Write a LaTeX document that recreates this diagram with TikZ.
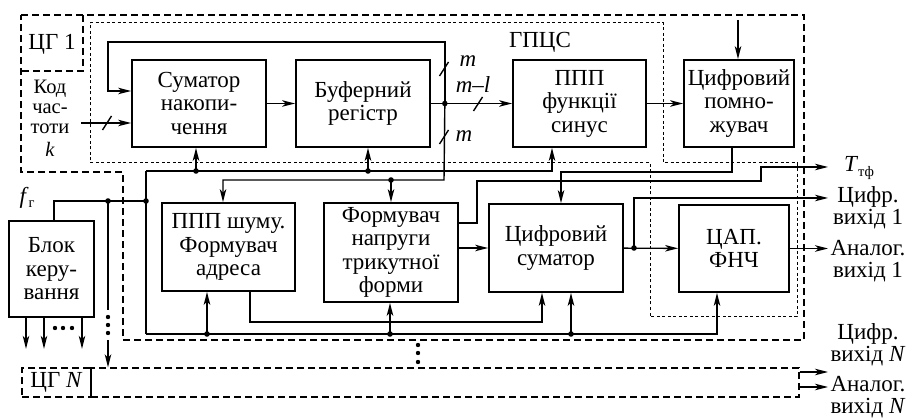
\documentclass[tikz,border=0pt]{standalone}
\usepackage{fontspec}
\setmainfont{Liberation Serif}
\usetikzlibrary{arrows.meta, positioning, calc}
\newcommand{\blockfont}{\fontsize{23}{23.5}\selectfont}
\newcommand{\lowidx}[1]{\raisebox{-0.4ex}{\fontsize{14.5}{14.5}\selectfont #1}}
\tikzset{
  block/.style={
    rectangle,
    draw=black,
    line width=1.7pt,
    inner sep=0pt,
    align=center,
    font=\blockfont
  },
  lbl/.style={
    inner sep=0pt,
    align=center,
    font=\blockfont
  },
  arrow/.style={
    line width=1.4pt,
    -{Stealth[length=13pt, width=6.5pt, inset=3.5pt]}
  },
  boldarrow/.style={
    arrow,
    line width=2.1pt
  },
  wire/.style={
    line width=1.4pt
  },
  coarsedash/.style={
    line width=1.4pt,
    dash pattern=on 7pt off 4pt
  },
  finedash/.style={
    line width=1pt,
    dash pattern=on 3pt off 2.5pt
  },
  tick/.style={
    line width=1.4pt
  }
}

\begin{document}
\begin{tikzpicture}[x=1pt, y=-1pt]
  \useasboundingbox (0,0) rectangle (915,419);

  % GENERATOR 1 OUTLINES
  \draw[coarsedash] (21,15) -- (804,15) -- (804,340) -- (123,340) -- (123,172) -- (21,172) -- cycle;
  \draw[coarsedash] (83,15) -- (83,71) -- (21,71);
  \draw[finedash] (90,23) -- (663,23) -- (663,163) -- (797,163) -- (797,317) -- (650,317) -- (650,163) -- (90,163) -- cycle;
  \node (cg1) [lbl] at (52,44) {ЦГ 1};
  \node (gpcs) [lbl] at (540,42) {ГПЦС};
  \node (kod) [lbl, font=\fontsize{20.5}{20}\selectfont] at (50,118) {Код\\час-\\тоти\\[3pt]\textit{k}};

  % TOP ROW
  \node (sum) [block, minimum width=134pt, minimum height=87pt] at (199,103.5) {Суматор\\накопи-\\чення};
  \node (buf) [block, minimum width=134pt, minimum height=87pt] at (363,103.5) {Буферний\\регістр};
  \node (sin) [block, minimum width=133pt, minimum height=87pt] at (579.5,103.5) {ППП\\функції\\синус};
  \node (mul) [block, minimum width=110pt, minimum height=87pt] at (739,103.5) {Цифровий\\помно-\\жувач};

  % BOTTOM ROW
  \node (noise) [block, minimum width=133pt, minimum height=88pt] at (228.5,247) {ППП шуму.\\Формувач\\адреса};
  \node (tri) [block, minimum width=134pt, minimum height=99pt] at (391,252.5) {Формувач\\напруги\\трикутної\\форми};
  \node (dsum) [block, minimum width=134pt, minimum height=88pt] at (556,248) {Цифровий\\суматор};
  \node (dac) [block, minimum width=110pt, minimum height=87pt] at (734,248.5) {ЦАП.\\ФНЧ};
  \node (ctrl) [block, minimum width=85pt, minimum height=96pt] at (51.5,269) {Блок\\керу-\\вання};
  \node (fg) [lbl] at (27,198) {\textit{f}\lowidx{г}};

  % GENERATOR N
  \node (cgN) [lbl, draw, coarsedash, minimum width=69pt, minimum height=29pt] at (56.5,382.5) {ЦГ \textit{N}};
  \node (cgNbus) [draw, coarsedash, minimum width=708pt, minimum height=29pt] at (445,382.5) {};

  % OUTPUT LABELS
  \node (ttf) [lbl] at (859,168) {\textit{T}\lowidx{тф}};
  \node (out1d) [lbl, font=\fontsize{23}{22}\selectfont] at (868,208) {Цифр.\\вихід 1};
  \node (out1a) [lbl, font=\fontsize{23}{22}\selectfont] at (868,261) {Аналог.\\вихід 1};
  \node (outNd) [lbl, font=\fontsize{23}{22}\selectfont] at (868,345) {Цифр.\\вихід \textit{N}};
  \node (outNa) [lbl, font=\fontsize{23}{22}\selectfont] at (868,397) {Аналог.\\вихід \textit{N}};

  % DATA PATH
  \coordinate (bj) at ($(buf.east)+(14,0)$);
  \coordinate (fb) at (108,42);
  \coordinate (kin) at (81,123);
  \draw[arrow] (kin) -- (kin -| sum.west);
  \draw[arrow] (sum) -- (buf);
  \draw[arrow] (buf) -- (sin);
  \draw[arrow] (sin) -- (mul);
  \draw[arrow] (bj) |- (fb) |- ([yshift=12.5pt]sum.west);
  \coordinate (ab) at (444,180);
  \coordinate (abj) at (tri.north |- ab);
  \draw[arrow] (bj) -- (ab) -| ([xshift=-5.5pt]noise.north);
  \draw[arrow] (abj) -- (tri.north);
  \foreach \x/\y in {107/123, 444/69, 444/137, 478/104}
    \draw[tick] (\x-4.5,\y+7) -- (\x+4.5,\y-7);
  \node (m1) [lbl] at (468,61) {\textit{m}};
  \node (m2) [lbl] at (473,85) {\textit{m}–\textit{l}};
  \node (m3) [lbl] at (464,136) {\textit{m}};

  % CLOCK
  \coordinate (clk) at (146,201);
  \coordinate (cn) at (108,201);
  \coordinate (ct) at (146,171);
  \coordinate (cb) at (146,334);
  \draw[wire] ([xshift=2.5pt]ctrl.north) |- (clk);
  \draw[wire] (ct) -- (cb);
  \coordinate (sj) at (196,171);
  \coordinate (bfj) at (368,171);
  \draw[arrow] (ct) -| ([xshift=-27.5pt]sin.south);
  \draw[boldarrow] (sj) -- (sj |- sum.south);
  \draw[boldarrow] (bfj) -- (bfj |- buf.south);
  \coordinate (nj) at (207,334);
  \coordinate (tj) at (390,334);
  \coordinate (dsj) at (571,334);
  \draw[arrow] (cb) -| ([xshift=-17pt]dac.south);
  \foreach \c/\n in {nj/noise, tj/tri, dsj/dsum}
    \draw[boldarrow] (\c) -- (\c |- \n.south);
  \draw[wire] (cn) -- (108,310);
  \coordinate (cn2) at (108,340);
  \draw[arrow] (cn2) -- (cn2 |- cgNbus.north);

  % NOISE AND TRIANGLE
  \coordinate (nz) at (542,322);
  \draw[arrow] ([xshift=21.5pt]noise.south) |- (nz) -- (nz |- dsum.south);
  \draw[arrow] (tri.east |- dsum.west) -- (dsum.west);
  \coordinate (t1) at (477,181);
  \coordinate (t2) at (761,167);
  \coordinate (q0) at (828,167);
  \draw[arrow] ([yshift=29.5pt]tri.east) -| (t1) -| (t2) -- (q0);

  % MULTIPLIER
  \coordinate (mo) at (561,172);
  \draw[arrow] ([xshift=-7pt]mul.south) |- (mo) -- (mo |- dsum.north);
  \coordinate (mi) at (738,20);
  \draw[arrow] (mi) -- (mi |- mul.north);

  % OUTPUTS
  \coordinate (dj) at (634,248);
  \coordinate (q1) at (828,198);
  \coordinate (q2) at (828,248.5);
  \coordinate (q3) at (828,372);
  \coordinate (q4) at (828,387);
  \draw[arrow] (dsum) -- (dac);
  \draw[arrow] (dj) |- (q1);
  \draw[arrow] (dac.east) -- (q2);
  \draw[arrow] (cgNbus.east |- q3) -- (q3);
  \draw[arrow] (cgNbus.east |- q4) -- (q4);
  \foreach \dx in {-25.5,-7.5,30.5}
    \draw[arrow] ([xshift=\dx pt]ctrl.south) -- ++(0,31);

  % DOTS
  \foreach \c in {bj, abj, cn, clk, sj, bfj, nj, tj, dsj, dj}
    \fill (\c) circle (2.8pt);
  \foreach \y in {317,325,333}
    \fill (108,\y) circle (2.2pt);
  \foreach \y in {345,353,362}
    \fill (418,\y) circle (2.2pt);
  \foreach \x in {55,63,72}
    \fill (\x,328) circle (2.2pt);
\end{tikzpicture}
\end{document}
